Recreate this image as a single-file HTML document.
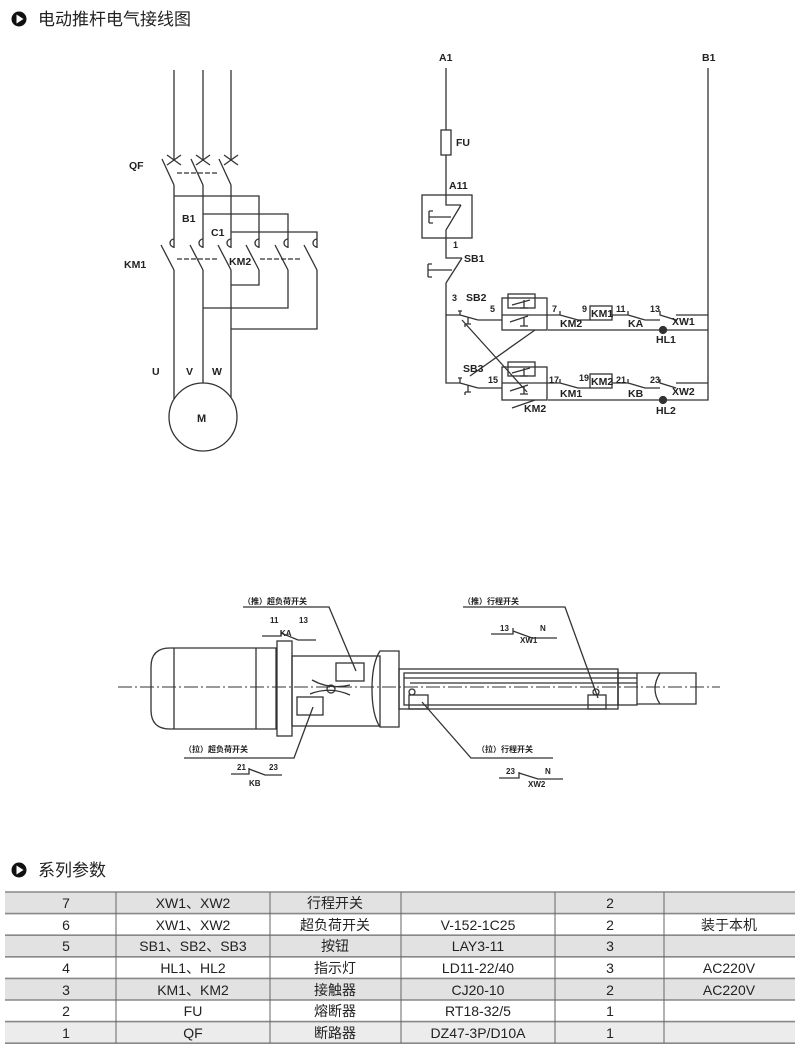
<!DOCTYPE html>
<html><head><meta charset="utf-8"><style>
body{margin:0;background:#fff;width:800px;height:1054px;overflow:hidden;font-family:"Liberation Sans","Noto Sans CJK SC",sans-serif}
svg{position:absolute;left:0;top:0}
.t{font-family:"Liberation Sans","Noto Sans CJK SC",sans-serif}
</style></head><body>
<svg width="800" height="1054" viewBox="0 0 800 1054" xmlns="http://www.w3.org/2000/svg">
<!-- Titles -->
<circle cx="19" cy="19" r="7.5" fill="#111"/><path d="M16.5 14.5 L23.5 19 L16.5 23.5Z" fill="#fff"/>
<text x="38" y="25" font-size="17" class="t" fill="#222">电动推杆电气接线图</text>
<circle cx="19" cy="870" r="7.5" fill="#111"/><path d="M16.5 865.5 L23.5 870 L16.5 874.5Z" fill="#fff"/>
<text x="38" y="876" font-size="17" class="t" fill="#222">系列参数</text>

<g stroke="#333" stroke-width="1.3" fill="none">
<!-- Power circuit -->
<line x1="174" y1="70" x2="174" y2="160"/><line x1="203" y1="70" x2="203" y2="160"/><line x1="231" y1="70" x2="231" y2="160"/>
<path d="M167 155 L181 165 M181 155 L167 165 M196 155 L210 165 M210 155 L196 165 M224 155 L238 165 M238 155 L224 165"/>
<path d="M162 159 L174 185 M191 159 L203 185 M219 159 L231 185"/>
<line x1="177" y1="173" x2="217" y2="173" stroke-dasharray="5,2"/>
<path d="M174 185 V248 M203 185 V248 M231 185 V248"/>
<path d="M174 196 H259 V248 M203 214 H288 V248 M231 232 H317 V248"/>
<!-- contact arcs -->
<path d="M174 239 A4 4 0 0 0 174 247 M203 239 A4 4 0 0 0 203 247 M231 239 A4 4 0 0 0 231 247 M259 239 A4 4 0 0 0 259 247 M288 239 A4 4 0 0 0 288 247 M317 239 A4 4 0 0 0 317 247"/>
<path d="M161 245 L174 270 M190 245 L203 270 M218 245 L231 270 M246 245 L259 270 M275 245 L288 270 M304 245 L317 270"/>
<line x1="177" y1="259" x2="217" y2="259" stroke-dasharray="5,2"/>
<line x1="260" y1="259" x2="302" y2="259" stroke-dasharray="5,2"/>
<path d="M174 270 V399 M203 270 V383 M231 270 V397"/>
<path d="M259 270 V285 H231 M288 270 V308 H203 M317 270 V329 H231"/>
<circle cx="203" cy="417" r="34"/>

<!-- Control circuit -->
<path d="M446 68 V130 M446 155 V195"/>
<rect x="441" y="130" width="10" height="25"/>
<rect x="422" y="195" width="50" height="43"/>
<path d="M446 195 V205 H461 M461 205 L446 230 V238"/>
<path d="M429 211 V223 M429 217 H451 M429 211 H433 M429 223 H433"/>
<path d="M446 238 V258 H462 M462 258 L446 283"/>
<path d="M428 264 V277 M428 270 H452 M428 264 H432 M428 277 H432"/>
<path d="M446 283 V383 H460 M446 315 H460"/>
<path d="M708 68 V400 H548 M708 330 H548 M708 315 H676 M708 383 H676"/>
<!-- row1 -->
<path d="M460 311 V315 M458 311 H462 M460 315 L478 320 M478 320 H502"/>
<path d="M468 317 V324 M465 324 H471 M465 324 V327"/>
<rect x="502" y="298" width="45" height="32"/>
<rect x="508" y="294" width="27" height="14"/>
<path d="M512 305 L530 300 M524 300 V308 M520 308 H528 M510 322 L528 316 M524 318 V326 M520 326 H528"/>
<path d="M502 315 H560 M560 311 V315 M560 315 L578 320 M578 320 H590"/>
<rect x="590" y="306" width="22" height="14"/>
<path d="M612 315 H628 M628 311 V315 L645 320 M645 320 H660 M660 311 V315 L676 320"/>
<circle cx="663" cy="330" r="3.5" fill="#333"/>
<!-- row2 -->
<path d="M460 378 V383 M458 378 H462 M460 383 L478 388 M478 388 H502"/>
<path d="M468 385 V392 M465 392 H471 M465 392 V395"/>
<rect x="502" y="367" width="45" height="33"/>
<rect x="508" y="362" width="27" height="14"/>
<path d="M512 373 L530 368 M524 368 V376 M520 376 H528 M510 391 L528 385 M524 386 V394 M520 394 H528"/>
<path d="M502 383 H560 M560 379 V383 M560 383 L578 388 M578 388 H590"/>
<rect x="590" y="374" width="22" height="14"/>
<path d="M612 383 H628 M628 379 V383 L645 388 M645 388 H660 M660 379 V383 L676 388"/>
<circle cx="663" cy="400" r="3.5" fill="#333"/>
<path d="M512 408 L535 400"/>
<!-- crossings -->
<path d="M462 320 L527 392 M470 376 L535 330"/>

<!-- Mechanical drawing -->
<line x1="118" y1="687" x2="720" y2="687" stroke-dasharray="14,3,2,3" stroke-width="1"/>
<path d="M170 648 H276 V729 H170 Q151 729 151 710 V667 Q151 648 170 648Z"/>
<line x1="174" y1="648" x2="174" y2="729"/><line x1="256" y1="648" x2="256" y2="729"/>
<rect x="277" y="641" width="15" height="95"/>
<rect x="292" y="656" width="88" height="70"/>
<path d="M380 651 H399 V727 H380 Q372 715 372 689 Q372 663 380 651Z"/>
<rect x="399" y="669" width="219" height="40"/>
<rect x="404" y="673" width="214" height="32"/>
<path d="M404 678 H637 M410 683 H637"/>
<rect x="618" y="673" width="19" height="32"/>
<path d="M637 673 H696 V704 H637 M660 673 Q650 689 660 704"/>
<rect x="336" y="663" width="28" height="18"/>
<rect x="297" y="697" width="26" height="18"/>
<path d="M312 680 Q330 690 350 685 M310 694 Q330 686 350 695"/>
<circle cx="331" cy="689" r="4"/>
<rect x="409" y="695" width="19" height="14"/><circle cx="412" cy="692" r="3"/>
<rect x="588" y="695" width="18" height="14"/><circle cx="596" cy="692" r="3"/>
<!-- leaders -->
<path d="M243 607 H329 L356 671"/>
<path d="M184 758 H294 L313 707"/>
<path d="M463 607 H565 L598 698"/>
<path d="M553 758 H471 L422 702"/>
<!-- switch symbols -->
<path d="M262 636 H281 V630 M281 633 L298 640 H316"/>
<path d="M491 634 H513 V628 M513 631 L532 638 H557"/>
<path d="M231 774 H249 V768 M249 769 L265 775 H282"/>
<path d="M499 778 H519 V772 M519 773 L538 779 H563"/>
</g>

<g class="t" font-size="10.5" font-weight="bold" fill="#222">
<text x="129" y="169">QF</text><text x="182" y="222">B1</text><text x="211" y="236">C1</text>
<text x="124" y="268">KM1</text><text x="229" y="265">KM2</text>
<text x="152" y="375">U</text><text x="186" y="375">V</text><text x="212" y="375">W</text>
<text x="197" y="422" font-size="11">M</text>
<text x="439" y="61">A1</text><text x="702" y="61">B1</text>
<text x="456" y="146">FU</text><text x="449" y="189">A11</text>
<text x="453" y="248" font-size="9">1</text><text x="464" y="262">SB1</text>
<text x="452" y="301" font-size="9">3</text><text x="466" y="301">SB2</text>
<text x="490" y="312" font-size="9">5</text><text x="552" y="312" font-size="9">7</text>
<text x="582" y="312" font-size="9">9</text><text x="591" y="317">KM1</text>
<text x="616" y="312" font-size="9">11</text><text x="650" y="312" font-size="9">13</text>
<text x="560" y="327">KM2</text><text x="628" y="327">KA</text><text x="672" y="325">XW1</text>
<text x="656" y="343">HL1</text>
<text x="463" y="372">SB3</text><text x="488" y="383" font-size="9">15</text>
<text x="549" y="383" font-size="9">17</text><text x="579" y="381" font-size="9">19</text>
<text x="591" y="385">KM2</text><text x="616" y="383" font-size="9">21</text><text x="650" y="383" font-size="9">23</text>
<text x="560" y="397">KM1</text><text x="628" y="397">KB</text><text x="672" y="395">XW2</text>
<text x="524" y="412">KM2</text><text x="656" y="414">HL2</text>
</g>
<g class="t" font-size="8" font-weight="bold" fill="#222">
<text x="243" y="604">（推）超负荷开关</text>
<text x="270" y="623">11</text><text x="299" y="623">13</text><text x="280" y="636">KA</text>
<text x="463" y="604">（推）行程开关</text>
<text x="500" y="631">13</text><text x="540" y="631">N</text><text x="520" y="643">XW1</text>
<text x="184" y="752">（拉）超负荷开关</text>
<text x="237" y="770">21</text><text x="269" y="770">23</text><text x="249" y="786">KB</text>
<text x="477" y="752">（拉）行程开关</text>
<text x="506" y="774">23</text><text x="545" y="774">N</text><text x="528" y="787">XW2</text>
</g>

<!-- Table -->
<g>
<rect x="5" y="892" width="790" height="21.6" fill="#e2e2e2"/>
<rect x="5" y="935.2" width="790" height="21.6" fill="#e2e2e2"/>
<rect x="5" y="978.4" width="790" height="21.6" fill="#e2e2e2"/>
<rect x="5" y="1021.6" width="790" height="21.6" fill="#ececec"/>
<g stroke="#888" stroke-width="1.6">
<line x1="5" y1="892" x2="795" y2="892"/><line x1="5" y1="913.6" x2="795" y2="913.6"/>
<line x1="5" y1="935.2" x2="795" y2="935.2"/><line x1="5" y1="956.8" x2="795" y2="956.8"/>
<line x1="5" y1="978.4" x2="795" y2="978.4"/><line x1="5" y1="1000" x2="795" y2="1000"/>
<line x1="5" y1="1021.6" x2="795" y2="1021.6"/><line x1="5" y1="1043.2" x2="795" y2="1043.2"/>
</g>
<g stroke="#666" stroke-width="1">
<line x1="116" y1="892" x2="116" y2="1043"/><line x1="270" y1="892" x2="270" y2="1043"/>
<line x1="401" y1="892" x2="401" y2="1043"/><line x1="555" y1="892" x2="555" y2="1043"/>
<line x1="664" y1="892" x2="664" y2="1043"/>
</g>
<g class="t" font-size="14" fill="#222" text-anchor="middle">
<text x="66" y="908">7</text><text x="193" y="908">XW1、XW2</text><text x="335" y="908">行程开关</text><text x="610" y="908">2</text>
<text x="66" y="930">6</text><text x="193" y="930">XW1、XW2</text><text x="335" y="930">超负荷开关</text><text x="478" y="930">V-152-1C25</text><text x="610" y="930">2</text><text x="729" y="930">装于本机</text>
<text x="66" y="951">5</text><text x="193" y="951">SB1、SB2、SB3</text><text x="335" y="951">按钮</text><text x="478" y="951">LAY3-11</text><text x="610" y="951">3</text>
<text x="66" y="973">4</text><text x="193" y="973">HL1、HL2</text><text x="335" y="973">指示灯</text><text x="478" y="973">LD11-22/40</text><text x="610" y="973">3</text><text x="729" y="973">AC220V</text>
<text x="66" y="995">3</text><text x="193" y="995">KM1、KM2</text><text x="335" y="995">接触器</text><text x="478" y="995">CJ20-10</text><text x="610" y="995">2</text><text x="729" y="995">AC220V</text>
<text x="66" y="1016">2</text><text x="193" y="1016">FU</text><text x="335" y="1016">熔断器</text><text x="478" y="1016">RT18-32/5</text><text x="610" y="1016">1</text>
<text x="66" y="1038">1</text><text x="193" y="1038">QF</text><text x="335" y="1038">断路器</text><text x="478" y="1038">DZ47-3P/D10A</text><text x="610" y="1038">1</text>
</g>
</g>
</svg>
</body></html>
